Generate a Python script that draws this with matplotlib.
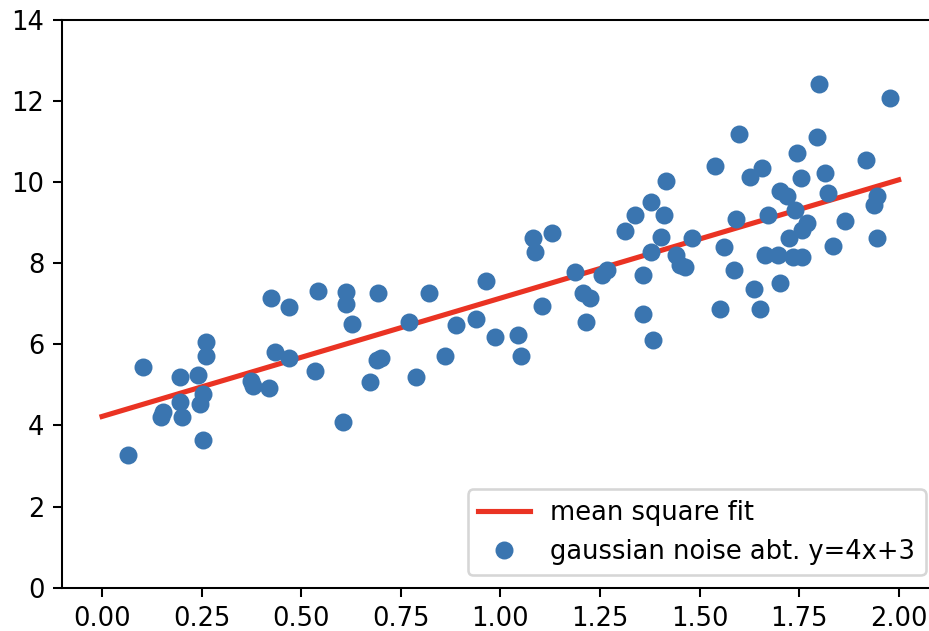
import matplotlib
matplotlib.use('Agg')
import matplotlib.pyplot as plt

# noisy samples around y = 4x + 3
noise_x = [0.065, 0.104, 0.147, 0.153, 0.195, 0.196, 0.201, 0.241, 0.247, 0.253,
           0.261, 0.261, 0.253, 0.375, 0.380, 0.418, 0.424, 0.470, 0.435, 0.470,
           0.535, 0.541, 0.612, 0.612, 0.627, 0.606, 0.692, 0.690, 0.700, 0.673,
           0.771, 0.789, 0.821, 0.861, 0.888, 0.938, 0.965, 0.986, 1.045, 1.051,
           1.082, 1.088, 1.129, 1.104, 1.187, 1.207, 1.226, 1.214, 1.254, 1.268,
           1.313, 1.337, 1.358, 1.358, 1.383, 1.377, 1.377, 1.404, 1.410, 1.416,
           1.440, 1.452, 1.464, 1.481, 1.540, 1.552, 1.561, 1.600, 1.586, 1.592,
           1.626, 1.657, 1.638, 1.652, 1.665, 1.672, 1.698, 1.703, 1.703, 1.719,
           1.744, 1.724, 1.736, 1.757, 1.740, 1.755, 1.757, 1.769, 1.801, 1.794,
           1.815, 1.822, 1.834, 1.865, 1.917, 1.978, 1.945, 1.938, 1.945]
noise_y = [3.28, 5.44, 4.20, 4.33, 5.19, 4.58, 4.20, 5.25, 4.53, 4.78,
           6.06, 5.70, 3.65, 5.10, 4.97, 4.93, 7.13, 6.92, 5.81, 5.67,
           5.34, 7.32, 7.29, 7.00, 6.49, 4.08, 7.27, 5.60, 5.66, 5.07,
           6.55, 5.19, 7.25, 5.71, 6.47, 6.61, 7.56, 6.17, 6.22, 5.71,
           8.61, 8.28, 8.73, 6.94, 7.79, 7.27, 7.13, 6.55, 7.70, 7.83,
           8.80, 9.19, 7.70, 6.74, 6.10, 9.51, 8.28, 8.63, 9.19, 10.01,
           8.20, 7.95, 7.91, 8.61, 10.40, 6.88, 8.40, 11.19, 7.83, 9.08,
           10.13, 10.34, 7.37, 6.88, 8.21, 9.19, 8.20, 7.51, 9.78, 9.64,
           10.72, 8.61, 8.16, 8.16, 9.31, 10.09, 8.81, 8.98, 12.40, 11.10,
           10.21, 9.72, 8.42, 9.04, 10.54, 12.07, 9.65, 9.43, 8.61]

# fitted line endpoints
fit_x = [0.0, 2.0]
fit_y = [4.22, 10.05]

DPI = 185
fig, ax = plt.subplots(figsize=(929 / DPI, 631 / DPI), dpi=DPI)
# the original was cropped: right spine falls just outside the picture
plt.subplots_adjust(left=0.067, right=1.0102, top=0.969, bottom=0.0686)

ax.plot(fit_x, fit_y, color='#ea3323', linewidth=2, label='mean square fit')
ax.plot(noise_x, noise_y, 'o', color='#3a75b0',
        label='gaussian noise abt. y=4x+3')

ax.set_xlim(-0.1, 2.1)
ax.set_ylim(0, 14)
ax.set_xticks([0.0, 0.25, 0.5, 0.75, 1.0, 1.25, 1.5, 1.75, 2.0])

ax.legend(loc='lower right')

fig.savefig('out.png', dpi=DPI)
